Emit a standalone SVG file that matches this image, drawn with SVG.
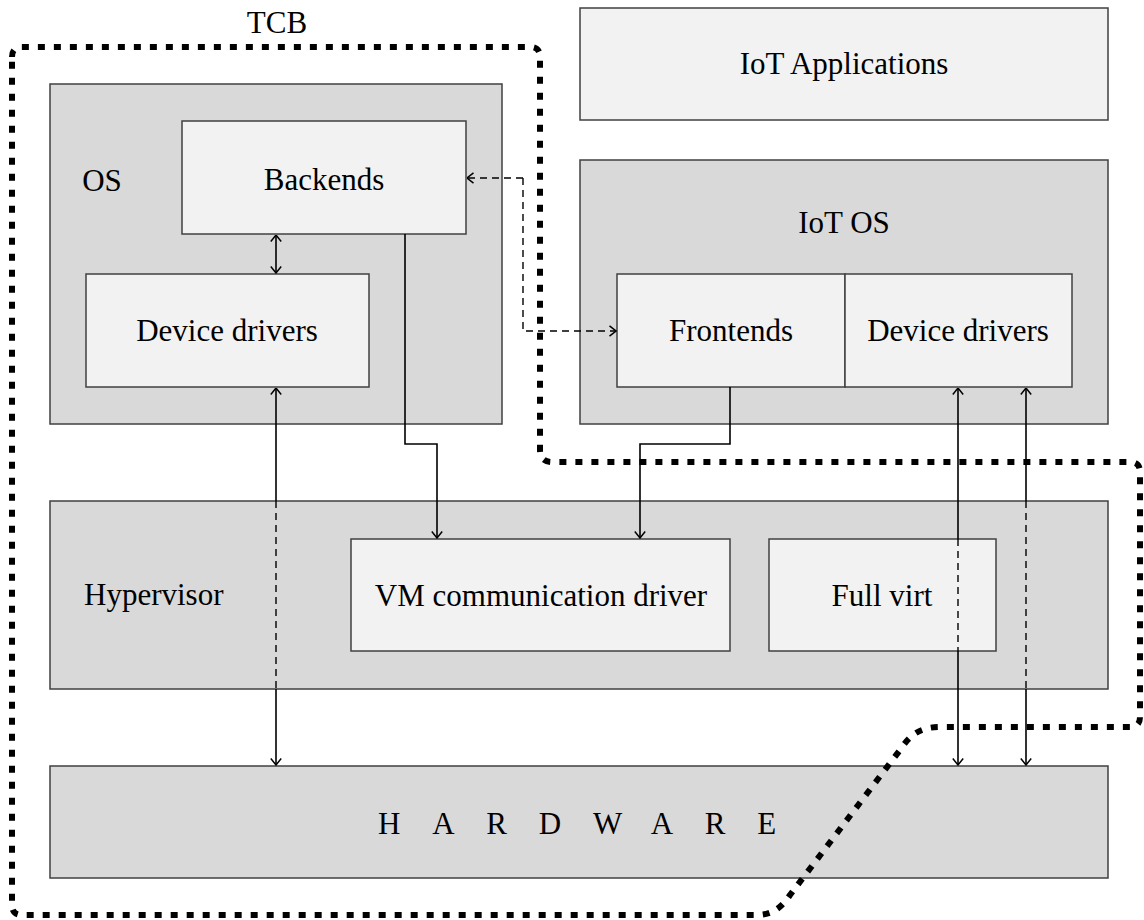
<svg xmlns="http://www.w3.org/2000/svg" width="1144" height="920" viewBox="0 0 1144 920">
<style>
text{font-family:"Liberation Serif","Times New Roman",serif;font-size:31px;fill:#000}
.c{text-anchor:middle}
.outer{fill:#d9d9d9;stroke:#404040;stroke-width:1.5}
.inner{fill:#f2f2f2;stroke:#404040;stroke-width:1.5}
.ln{fill:none;stroke:#000;stroke-width:1.6}
.dl{fill:none;stroke:#000;stroke-width:1.4;stroke-dasharray:7 5}
.tcb{fill:none;stroke:#000;stroke-width:6;stroke-dasharray:7 9}
</style>
<defs>
<marker id="ah" viewBox="0 0 8 12" refX="7.5" refY="6" markerWidth="8" markerHeight="12" orient="auto" markerUnits="userSpaceOnUse">
<path d="M1,0.8 L7.5,6 L1,11.2" fill="none" stroke="#000" stroke-width="1.5"/>
</marker>
</defs>
<rect width="1144" height="920" fill="#fff"/>
<g id="iot-apps"><rect class="inner" x="580" y="8" width="528" height="112"/><text class="c" x="844" y="74">IoT Applications</text></g>
<g id="os"><rect class="outer" x="50" y="84" width="452" height="340"/><text class="c" x="102" y="191">OS</text></g>
<g id="backends"><rect class="inner" x="182" y="121" width="284" height="113"/><text class="c" x="324" y="190">Backends</text></g>
<g id="os-drivers"><rect class="inner" x="86" y="274" width="283" height="113"/><text class="c" x="227" y="341">Device drivers</text></g>
<g id="iot-os"><rect class="outer" x="580" y="160" width="528" height="264"/><text class="c" x="844" y="233">IoT OS</text></g>
<g id="frontends"><rect class="inner" x="617" y="274" width="228" height="113"/><text class="c" x="731" y="341">Frontends</text></g>
<g id="iot-drivers"><rect class="inner" x="845" y="274" width="227" height="113"/><text class="c" x="958" y="341">Device drivers</text></g>
<g id="hypervisor"><rect class="outer" x="50" y="501" width="1058" height="188"/><text x="84" y="605">Hypervisor</text></g>
<g id="vm-comm"><rect class="inner" x="351" y="539" width="379" height="112"/><text class="c" x="541" y="606">VM communication driver</text></g>
<g id="full-virt"><rect class="inner" x="769" y="539" width="227" height="112"/><text class="c" x="882" y="606">Full virt</text></g>
<g id="hardware"><rect class="outer" x="50" y="766" width="1058" height="112"/><text x="378" y="834" letter-spacing="31.8">HARDWARE</text></g>
<g id="tcb"><path class="tcb" d="M12 57 Q12 47 22 47 L530 47 Q540 47 540 57 L540 450 Q540 462 552 462 L1130 462 Q1140 462 1140 472 L1140 717 Q1140 727 1130 727 L940 727 C920 727 910 735 900 750 L790 895 C780 910 770 915 755 915 L22 915 Q12 915 12 905 Z"/><text class="c" x="277" y="33">TCB</text></g>
<g id="connectors">
<path class="ln" d="M276 254 L276 235" marker-end="url(#ah)"/>
<path class="ln" d="M276 254 L276 273" marker-end="url(#ah)"/>
<path class="ln" d="M276 501 L276 388" marker-end="url(#ah)"/>
<path class="dl" d="M276 501 L276 689"/>
<path class="ln" d="M276 689 L276 765" marker-end="url(#ah)"/>
<path class="ln" d="M405 234 L405 444 L437 444 L437 538" marker-end="url(#ah)"/>
<path class="ln" d="M730 387 L730 444 L640 444 L640 538" marker-end="url(#ah)"/>
<path class="dl" d="M523 178 L467 178" marker-end="url(#ah)"/>
<path class="dl" d="M523 178 L523 331 L616 331" marker-end="url(#ah)"/>
<path class="ln" d="M958 539 L958 388" marker-end="url(#ah)"/>
<path class="dl" d="M958 539 L958 651"/>
<path class="ln" d="M958 651 L958 765" marker-end="url(#ah)"/>
<path class="ln" d="M1026 501 L1026 388" marker-end="url(#ah)"/>
<path class="dl" d="M1026 501 L1026 689"/>
<path class="ln" d="M1026 689 L1026 765" marker-end="url(#ah)"/>
</g>
</svg>
